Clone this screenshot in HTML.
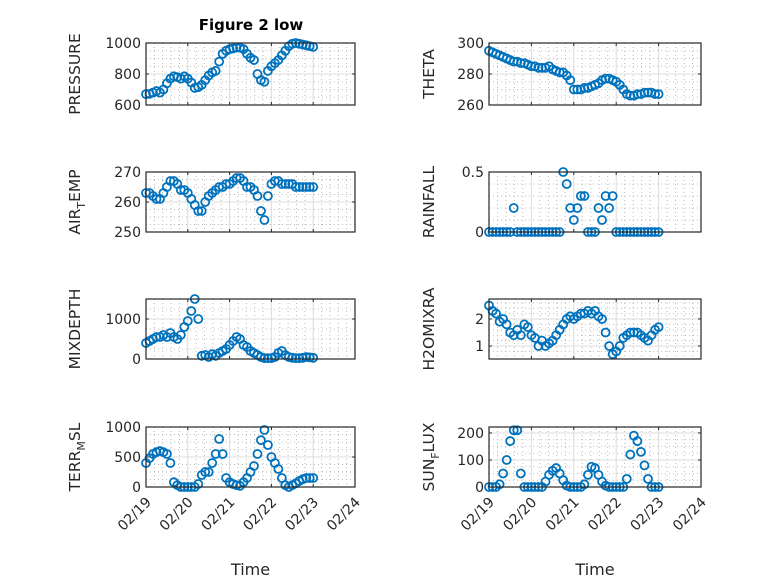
<!DOCTYPE html>
<html><head><meta charset="utf-8"><style>
body{margin:0;background:#fff;}
svg{display:block;font-family:"DejaVu Sans","Liberation Sans",sans-serif;}
</style></head><body>
<svg id="fig" width="778" height="583" viewBox="0 0 778 583">
<rect width="778" height="583" fill="#fff"/>
<text x="251" y="30" text-anchor="middle" font-size="15" font-weight="bold" fill="#000">Figure 2 low</text>
</svg>
<script>
const hours=[0,2,4,6,8,10,12,14,16,18,20,22,24,26,28,30,32,34,36,38,40,42,44,46,48,50,52,54,56,58,60,62,64,66,68,70,72,74,76,78,80,82,84,86,88,90,92,94,96];
const xTickLabels=["02/19","02/20","02/21","02/22","02/23","02/24"];
const pressure=[670,672,680,690,680,700,740,770,785,780,770,785,770,745,710,715,730,760,790,810,820,880,930,950,960,965,970,970,960,930,905,890,800,760,750,820,850,870,890,920,950,980,995,1000,995,990,985,980,975];
const theta=[295,294,293,292,291,290,289,288,288,287,287,286,285,285,284,284,284,285,283,282,281,281,279,276,270,270,270,271,271,272,273,274,276,277,277,276,275,273,270,267,266,266,267,267,268,268,268,267,267];
const airTemp=[263,263,262,261,261,263,265,267,267,266,264,264,263,261,259,257,257,260,262,263,264,265,265,266,266,267,268,268,267,265,265,264,262,257,254,262,266,267,267,266,266,266,266,265,265,265,265,265,265];
const rainfall=[0,0,0,0,0,0,0,0.2,0,0,0,0,0,0,0,0,0,0,0,0,0,0.5,0.4,0.2,0.1,0.2,0.3,0.3,0,0,0,0.2,0.1,0.3,0.2,0.3,0,0,0,0,0,0,0,0,0,0,0,0,0];
const mixDepth=[400,450,500,550,550,600,550,650,550,500,600,800,950,1200,1500,1000,80,100,50,120,80,150,200,250,350,450,550,500,350,300,200,150,100,50,20,20,20,50,150,200,100,50,30,20,20,30,50,40,30];
const h2oMix=[2.5,2.3,2.2,1.9,2.0,1.8,1.5,1.4,1.6,1.4,1.8,1.7,1.4,1.3,1.0,1.2,1.0,1.1,1.2,1.4,1.6,1.8,2.0,2.1,2.0,2.1,2.2,2.2,2.3,2.2,2.3,2.1,2.0,1.5,1.0,0.7,0.8,1.0,1.3,1.4,1.5,1.5,1.5,1.4,1.3,1.2,1.4,1.6,1.7];
const terrMsl=[400,480,550,580,600,580,550,400,80,30,0,0,0,0,0,50,200,250,250,400,550,800,550,150,80,50,30,20,80,150,250,350,550,780,950,700,500,400,300,150,30,0,30,60,100,130,150,150,150];
const sunFlux=[0,0,0,10,50,100,170,210,210,50,0,0,0,0,0,0,20,45,60,70,50,25,5,0,0,0,0,10,45,75,70,45,20,5,0,0,0,0,0,30,120,190,170,130,80,30,0,0,0];

const NS="http://www.w3.org/2000/svg";
const svg=document.getElementById('fig');
function mk(tag,attrs,parent){const e=document.createElementNS(NS,tag);for(const k in attrs)e.setAttribute(k,attrs[k]);(parent||svg).appendChild(e);return e;}

const panels=[
 {key:'pressure',data:pressure,x0:146,x1:355,y0:43,y1:105,ymin:600,ymax:1000,ticks:[600,800,1000],minor:[650,700,750,850,900,950],label:['PRESSURE'],lx:80,bottom:false},
 {key:'theta',data:theta,x0:489,x1:701,y0:43,y1:105,ymin:260,ymax:300,ticks:[260,280,300],minor:[265,270,275,285,290,295],label:['THETA'],lx:434,bottom:false},
 {key:'air-temp',data:airTemp,x0:146,x1:355,y0:172,y1:232,ymin:250,ymax:270,ticks:[250,260,270],minor:[252.5,255,257.5,262.5,265,267.5],label:['AIR','T','EMP'],lx:80,bottom:false},
 {key:'rainfall',data:rainfall,x0:489,x1:701,y0:172,y1:232,ymin:0,ymax:0.5,ticks:[0,0.5],minor:[0.1,0.2,0.3,0.4],label:['RAINFALL'],lx:434,bottom:false},
 {key:'mixdepth',data:mixDepth,x0:146,x1:355,y0:299,y1:359,ymin:0,ymax:1500,ticks:[0,1000],minor:[250,500,750,1250],label:['MIXDEPTH'],lx:80,bottom:false},
 {key:'h2omixra',data:h2oMix,x0:489,x1:701,y0:299,y1:359,ymin:0.52,ymax:2.74,ticks:[1,2],minor:[0.8,1.2,1.4,1.6,1.8,2.2,2.4,2.6],label:['H2OMIXRA'],lx:434,bottom:false},
 {key:'terr-msl',data:terrMsl,x0:146,x1:355,y0:427,y1:487,ymin:0,ymax:1000,ticks:[0,500,1000],minor:[125,250,375,625,750,875],label:['TERR','M','SL'],lx:80,bottom:true},
 {key:'sun-flux',data:sunFlux,x0:489,x1:701,y0:427,y1:487,ymin:0,ymax:222,ticks:[0,100,200],minor:[25,50,75,125,150,175],label:['SUN','F','LUX'],lx:434,bottom:true}
];

panels.forEach(p=>{
  const g=mk('g',{});
  
  
  const xs=h=>p.x0+(p.x1-p.x0)*h/120;
  const ys=v=>p.y1-(p.y1-p.y0)*(v-p.ymin)/(p.ymax-p.ymin);
  mk('rect',{x:p.x0,y:p.y0,width:p.x1-p.x0,height:p.y1-p.y0,fill:'#fff'},g);
  for(let h=0;h<=120;h+=4.8){ if(Math.abs(h%24)<0.01||Math.abs(h%24-24)<0.01) continue;
    mk('line',{x1:xs(h),x2:xs(h),y1:p.y0,y2:p.y1,stroke:'#bbb','stroke-width':1,'stroke-dasharray':'1 3'},g);}
  p.minor.forEach(v=>mk('line',{x1:p.x0,x2:p.x1,y1:ys(v),y2:ys(v),stroke:'#bbb','stroke-width':1,'stroke-dasharray':'1 3'},g));
  xTickLabels.forEach((t,i)=>{const x=xs(i*24);
    mk('line',{x1:x,x2:x,y1:p.y0,y2:p.y1,stroke:'#dcdcdc','stroke-width':1},g);
    mk('line',{x1:x,x2:x,y1:p.y1,y2:p.y1-3,stroke:'#262626'},g);
    mk('line',{x1:x,x2:x,y1:p.y0,y2:p.y0+3,stroke:'#262626'},g);
    if(p.bottom){const tx=mk('text',{x:x+6,y:p.y1+16,'text-anchor':'end','font-size':14,fill:'#262626',transform:`rotate(-45 ${x+6} ${p.y1+16})`},g);tx.textContent=t;
      
      }
  });
  p.ticks.forEach(v=>{const y=ys(v);
    mk('line',{x1:p.x0,x2:p.x1,y1:y,y2:y,stroke:'#dcdcdc','stroke-width':1},g);
    mk('line',{x1:p.x0,x2:p.x0+3,y1:y,y2:y,stroke:'#262626'},g);
    mk('line',{x1:p.x1,x2:p.x1-3,y1:y,y2:y,stroke:'#262626'},g);
    const t=mk('text',{x:p.x0-5,y:y+5,'text-anchor':'end','font-size':14,fill:'#262626'},g);t.textContent=String(v);
    
    
  });
  p.data.forEach((v,i)=>{
    const c=mk('circle',{cx:xs(hours[i]),cy:ys(v),r:4,fill:'none',stroke:'#0072bd','stroke-width':1.8},g);
    
    
  });
  mk('rect',{x:p.x0,y:p.y0,width:p.x1-p.x0,height:p.y1-p.y0,fill:'none',stroke:'#262626','stroke-width':1.2},g);
  const cy=(p.y0+p.y1)/2;
  const lab=mk('text',{x:p.lx,y:cy,'text-anchor':'middle','font-size':15.5,fill:'#262626',transform:`rotate(-90 ${p.lx} ${cy})`},g);
  
  
  if(p.label.length===1){lab.textContent=p.label[0];}
  else{
    const a=mk('tspan',{},lab);a.textContent=p.label[0];
    const b=mk('tspan',{dy:5,'font-size':11},lab);b.textContent=p.label[1];
    const c=mk('tspan',{dy:-5},lab);c.textContent=p.label[2];
  }
  if(p.bottom){const tt=mk('text',{x:(p.x0+p.x1)/2,y:575,'text-anchor':'middle','font-size':16,fill:'#262626'},g);tt.textContent='Time';
    
    }
});
</script>
</body></html>
